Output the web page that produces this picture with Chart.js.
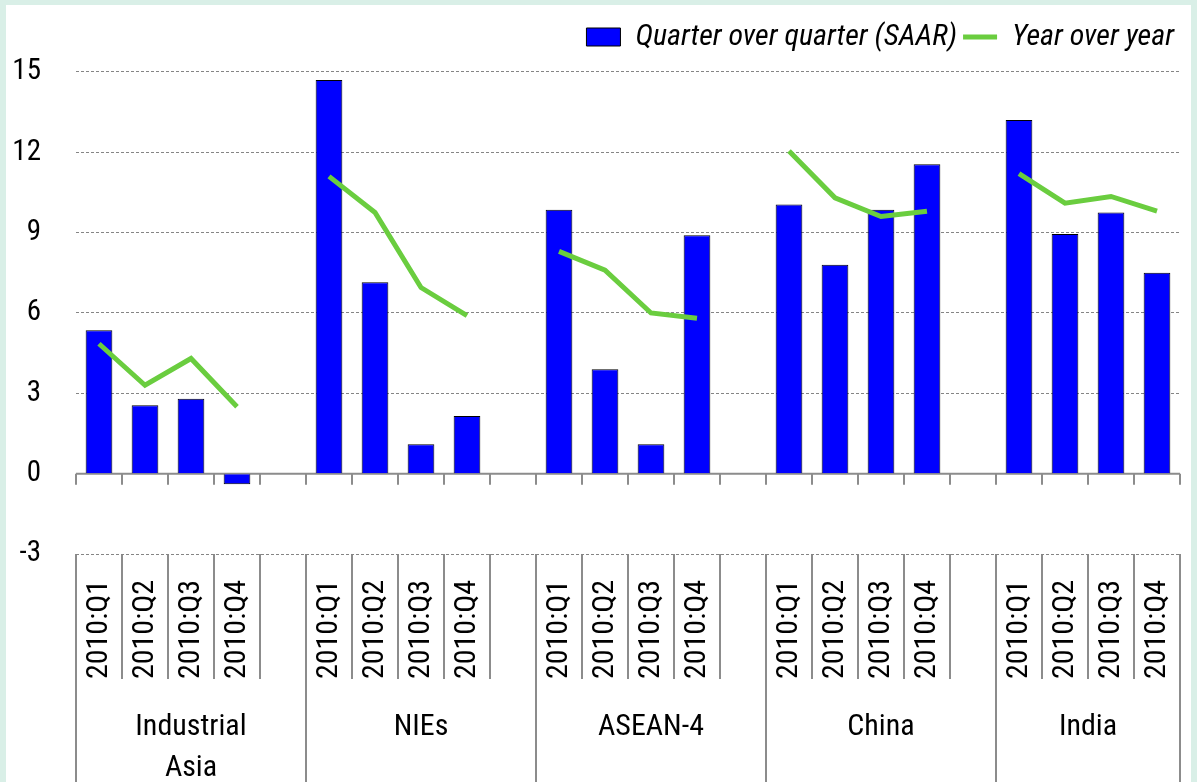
<!DOCTYPE html>
<html>
<head>
<meta charset="utf-8">
<script src="https://cdn.jsdelivr.net/npm/chart.js@4.4.1/dist/chart.umd.min.js"></script>
<style>
  html, body { margin: 0; padding: 0; background: #d9efe7; }
  #wrap { position: absolute; left: 6px; top: 5px; width: 1185px; height: 777px; background: #fff; }
</style>
</head>
<body>
<div id="wrap"><canvas id="growthChart" width="1185" height="777"></canvas></div>
<script>
const regions = ['Industrial\nAsia', 'NIEs', 'ASEAN-4', 'China', 'India'];
const quarters = ['2010:Q1', '2010:Q2', '2010:Q3', '2010:Q4'];
// quarter over quarter, seasonally adjusted annual rate (%)
const qoqSaar = [5.35, 2.55, 2.8, -0.4, 14.7, 7.15, 1.1, 2.15, 9.85, 3.9, 1.1, 8.9, 10.05, 7.8, 9.85, 11.55, 13.2, 8.95, 9.75, 7.5];
// year over year (%)
const yoyGrowth = [4.85, 3.3, 4.3, 2.5, 11.1, 9.75, 6.95, 5.9, 8.3, 7.6, 6.0, 5.8, 12.05, 10.3, 9.6, 9.8, 11.2, 10.1, 10.35, 9.8];
const yTicks = [-3, 0, 3, 6, 9, 12, 15];

const FONT = '"Roboto Condensed", "DejaVu Sans Condensed", sans-serif';
const GREY = '#8c8c8c';

// one blank slot between regions, like the Excel original
const labels = [];
const barData = [];
const lineData = [];
regions.forEach((r, g) => {
  quarters.forEach((q, i) => {
    labels.push(q);
    barData.push(qoqSaar[g * 4 + i]);
    lineData.push(yoyGrowth[g * 4 + i]);
  });
  if (g < regions.length - 1) {
    labels.push('');
    barData.push(null);
    lineData.push(null);
  }
});

const regionAxis = {
  id: 'regionAxis',
  beforeDatasetsDraw(chart) {
    const { ctx, scales: { x, y } } = chart;
    const y0 = y.getPixelForValue(0);
    ctx.save();
    ctx.strokeStyle = GREY;
    ctx.lineWidth = 2;
    ctx.beginPath();
    ctx.moveTo(x.getPixelForValue(-0.5), y0);
    ctx.lineTo(x.getPixelForValue(labels.length - 0.5), y0);
    for (let i = 0; i <= labels.length; i++) {
      const px = Math.round(x.getPixelForValue(i - 0.5));
      ctx.moveTo(px, y0);
      ctx.lineTo(px, y0 + 11);
    }
    ctx.stroke();
    ctx.restore();
  },
  afterDraw(chart) {
    const { ctx, chartArea, scales: { x } } = chart;
    const top = chartArea.bottom + x.options.grid.tickLength;
    const bottom = chart.height;
    ctx.save();
    ctx.strokeStyle = GREY;
    ctx.lineWidth = 2;
    ctx.beginPath();
    const edges = regions.map((r, g) => g * 5 - 0.5);
    edges.push(labels.length - 0.5);
    edges.forEach(e => {
      const px = Math.round(x.getPixelForValue(e));
      ctx.moveTo(px, top);
      ctx.lineTo(px, bottom);
    });
    ctx.stroke();

    ctx.fillStyle = '#000';
    ctx.font = '30px ' + FONT;
    ctx.textAlign = 'center';
    ctx.textBaseline = 'middle';
    regions.forEach((r, g) => {
      const left = x.getPixelForValue(g * 5 - 0.5);
      const right = x.getPixelForValue(Math.min(g * 5 + 4.5, labels.length - 0.5));
      r.split('\n').forEach((line, k) => {
        ctx.fillText(line, (left + right) / 2, top + 48 + k * 41);
      });
    });
    ctx.restore();
  }
};

new Chart(document.getElementById('growthChart'), {
  type: 'bar',
  data: {
    labels,
    datasets: [
      {
        type: 'bar',
        label: 'Quarter over quarter (SAAR)',
        data: barData,
        backgroundColor: '#0000ff',
        borderColor: '#000',
        borderWidth: 1,
        barPercentage: 0.58,
        categoryPercentage: 1,
        order: 1
      },
      {
        type: 'line',
        label: 'Year over year',
        data: lineData,
        borderColor: '#6acd3f',
        backgroundColor: '#6acd3f',
        borderWidth: 5,
        pointRadius: 0,
        tension: 0,
        spanGaps: false,
        order: 0
      }
    ]
  },
  options: {
    responsive: false,
    animation: false,
    layout: { padding: { top: 11, right: 11, left: 0, bottom: 0 } },
    plugins: {
      tooltip: { enabled: false },
      legend: {
        position: 'top',
        align: 'end',
        labels: {
          usePointStyle: true,
          pointStyleWidth: 34,
          boxHeight: 18,
          padding: 6,
          color: '#000',
          font: { family: FONT, size: 30, style: 'italic' },
          sort: (a, b) => a.datasetIndex - b.datasetIndex,
          generateLabels(chart) {
            const items = Chart.defaults.plugins.legend.labels.generateLabels(chart);
            items.forEach(it => { it.pointStyle = it.datasetIndex === 0 ? 'rect' : 'line'; });
            return items;
          }
        }
      }
    },
    scales: {
      x: {
        offset: true,
        border: { display: false },
        grid: {
          offset: true,
          drawOnChartArea: false,
          drawTicks: true,
          tickLength: 125,
          color: GREY,
          lineWidth: 2
        },
        ticks: {
          autoSkip: false,
          maxRotation: 90,
          minRotation: 90,
          padding: -99,
          color: '#000',
          font: { family: FONT, size: 30 }
        },
        afterFit(scale) { scale.height = 228; }
      },
      y: {
        min: -3,
        max: 15.37,
        afterBuildTicks(scale) { scale.ticks = yTicks.map(v => ({ value: v })); },
        border: { display: false, dash: [3, 2] },
        grid: {
          drawTicks: false,
          borderDash: [3, 2],
          lineWidth: 1,
          color: c => (c.tick && c.tick.value === 0 ? 'rgba(0,0,0,0)' : '#858585')
        },
        ticks: {
          padding: 35,
          color: '#000',
          font: { family: FONT, size: 29 }
        },
        afterFit(scale) { scale.width = 70; }
      }
    }
  },
  plugins: [regionAxis]
});
</script>
</body>
</html>
